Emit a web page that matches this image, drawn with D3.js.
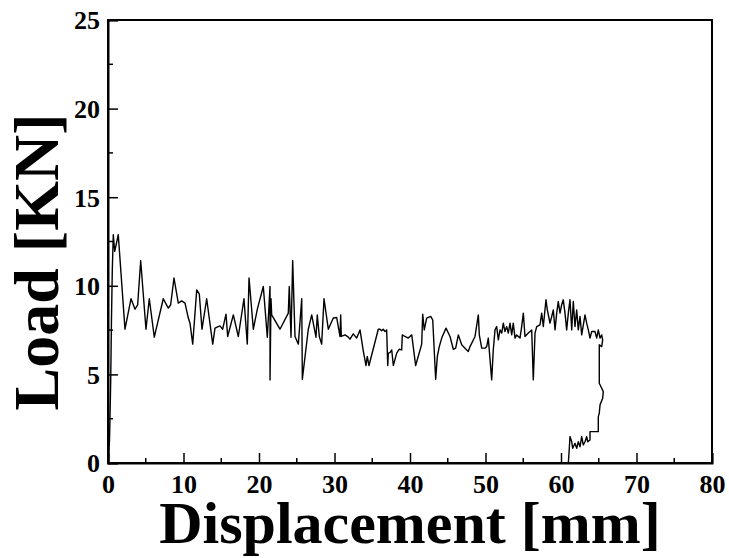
<!DOCTYPE html>
<html>
<head>
<meta charset="utf-8">
<script src="https://cdn.jsdelivr.net/npm/d3@7/dist/d3.min.js"></script>
<style>
  html, body { margin: 0; padding: 0; background: #fff; }
  svg { display: block; }
  text { font-family: "Liberation Serif", "Times New Roman", serif; font-weight: bold; fill: #000; }
</style>
</head>
<body>
<svg id="chart" width="729" height="558"></svg>
<script>
// Displacement [mm]
const displacement = [
  0.04,0.09,0.20,0.26,0.36,0.46,0.57,0.70,0.89,1.36,
  2.25,3.05,3.58,3.93,4.33,5.03,5.47,6.13,7.32,7.99,
  8.30,8.74,9.31,9.76,10.20,10.64,10.86,11.22,11.75,12.09,
  12.45,13.07,13.87,14.17,14.83,15.19,15.63,15.85,16.60,17.26,
  18.01,18.45,18.68,19.25,19.78,20.57,21.10,21.46,21.46,21.59,
  21.68,22.78,23.88,24.01,24.24,24.46,24.77,25.21,25.66,25.74,
  26.53,26.98,27.55,27.72,27.99,28.30,28.61,29.18,29.84,30.29,
  30.73,30.82,30.90,31.39,31.83,32.05,32.49,32.94,33.38,33.81,
  34.17,34.34,34.57,35.80,36.03,36.25,36.46,36.69,36.91,37.05,
  37.13,37.35,37.58,37.79,38.24,38.58,38.90,38.98,39.34,39.77,
  40.23,40.75,41.55,41.68,41.89,42.21,42.74,43.01,43.40,43.62,
  43.88,44.20,44.77,45.30,45.74,46.05,46.40,46.85,47.28,47.72,
  47.95,48.61,49.05,49.18,49.50,49.93,50.16,50.37,50.82,51.03,
  51.26,51.48,51.70,51.92,52.15,52.36,52.58,52.81,53.02,53.25,
  53.47,53.68,53.91,54.13,54.57,54.79,55.01,55.23,55.67,56.12,
  56.33,56.56,56.78,57.22,57.44,57.66,58.01,58.19,58.54,58.77,
  58.98,59.21,59.43,59.64,59.87,60.09,60.30,60.53,60.75,60.97,
  61.19,61.42,61.63,61.85,62.08,62.29,62.52,62.74,63.18,63.40,
  63.62,63.84,64.07,64.50,64.73,64.94,65.17,65.39,65.52,65.39,
  65.07,65.07,65.39,65.60,65.52,65.17,65.07,64.94,64.94,63.84,
  63.84,63.54,63.40,63.18,62.95,62.74,62.52,62.29,62.08,61.85,
  61.55,61.42,61.19,61.06,60.97
];
// Load [KN]
const load = [
  0.00,0.45,1.30,2.43,4.69,8.08,10.90,12.88,11.94,12.88,
  7.55,9.27,8.68,8.93,11.41,7.55,9.27,7.10,9.27,8.74,
  8.93,10.44,9.02,9.15,9.02,8.18,7.89,6.71,9.77,9.55,
  7.55,9.27,6.71,7.61,7.74,7.55,8.40,7.14,8.36,7.14,
  9.27,6.71,10.44,7.55,8.68,9.96,7.10,9.96,4.69,9.27,
  8.36,7.55,8.46,9.96,7.10,11.41,7.14,6.71,9.27,4.73,
  7.55,8.36,7.10,8.36,7.14,6.71,9.27,7.55,8.18,8.21,
  7.14,8.36,7.14,7.23,7.10,6.99,7.29,7.05,7.51,6.33,
  5.50,6.01,5.50,7.55,7.55,7.46,7.55,7.42,7.51,5.50,
  6.20,6.23,6.38,5.50,6.20,6.42,6.38,7.23,7.14,7.05,
  7.23,5.50,6.71,8.40,7.51,8.18,8.27,8.08,4.73,6.01,
  6.57,7.05,7.61,7.14,6.42,6.48,7.23,6.67,6.48,6.29,
  6.57,7.14,8.36,7.23,6.48,6.48,6.57,7.05,4.69,6.38,
  7.51,7.70,6.95,7.51,7.33,7.89,7.42,7.70,7.33,7.89,
  7.23,7.89,7.05,7.23,7.05,7.70,8.46,7.14,7.33,7.51,
  4.69,7.33,7.70,7.80,8.46,7.70,9.21,8.64,7.89,8.27,
  8.64,7.51,8.46,9.11,8.46,8.93,9.21,8.46,7.51,8.46,
  9.21,7.51,9.11,7.70,8.64,7.51,8.27,7.23,8.36,7.89,
  7.51,7.05,7.42,7.42,7.05,7.51,7.05,7.23,6.95,6.57,
  6.67,4.50,4.22,4.03,3.66,3.28,2.81,2.62,1.77,1.77,
  1.30,1.20,1.49,1.20,1.02,1.49,0.92,1.20,0.83,1.11,
  0.83,1.20,1.49,0.55,0.00
];
const xTicks = [0, 10, 20, 30, 40, 50, 60, 70, 80];
const xMinorTicks = [5, 15, 25, 35, 45, 55, 65, 75];
const yTicks = [0, 5, 10, 15, 20, 25];
const yMinorTicks = [2.5, 7.5, 12.5, 17.5, 22.5];
const xTitle = "Displacement [mm]";
const yTitle = "Load [KN]";

const W = 729, H = 558;
const m = { left: 108, right: 17, top: 20, bottom: 95 };
const svg = d3.select("#chart");
const x = d3.scaleLinear().domain([0, 80]).range([m.left, W - m.right]);
const y = d3.scaleLinear().domain([0, 25]).range([H - m.bottom, m.top]);

// data line
const pts = displacement.map((d, i) => [d, load[i]]);
svg.append("path")
  .datum(pts)
  .attr("fill", "none")
  .attr("stroke", "#000")
  .attr("stroke-width", 1.4)
  .attr("stroke-linejoin", "round")
  .attr("d", d3.line().x(d => x(d[0])).y(d => y(d[1])));

// frame
svg.append("rect")
  .attr("x", x(0)).attr("y", y(25))
  .attr("width", x(80) - x(0)).attr("height", y(0) - y(25))
  .attr("fill", "none").attr("stroke", "#000").attr("stroke-width", 2);

// minor ticks (inward), drawn without labels
svg.append("g").selectAll("line").data(xMinorTicks).join("line")
  .attr("x1", d => x(d)).attr("x2", d => x(d))
  .attr("y1", y(0)).attr("y2", y(0) - 5)
  .attr("stroke", "#000").attr("stroke-width", 1.5);
svg.append("g").selectAll("line").data(yMinorTicks).join("line")
  .attr("x1", x(0)).attr("x2", x(0) + 5)
  .attr("y1", d => y(d)).attr("y2", d => y(d))
  .attr("stroke", "#000").attr("stroke-width", 1.5);

// bottom axis (ticks inward)
const xAxis = d3.axisBottom(x).tickValues(xTicks).tickSize(-10).tickPadding(12).tickFormat(d3.format("d"));
const gx = svg.append("g").attr("transform", `translate(0,${y(0)})`).call(xAxis);

// left axis
const yAxis = d3.axisLeft(y).tickValues(yTicks).tickSize(-10).tickPadding(8).tickFormat(d3.format("d"));
const gy = svg.append("g").attr("transform", `translate(${x(0)},0)`).call(yAxis);

[gx, gy].forEach(g => {
  g.select(".domain").attr("stroke", "#000").attr("stroke-width", 2);
  g.selectAll(".tick line").attr("stroke", "#000").attr("stroke-width", 1.5);
  g.selectAll(".tick text")
    .attr("font-family", "'Liberation Serif', 'Times New Roman', serif")
    .attr("font-weight", "bold")
    .attr("font-size", 26)
    .attr("fill", "#000");
});
gx.selectAll(".tick text").attr("dy", "0.71em");
gy.selectAll(".tick text").attr("dy", "0.34em");

// titles
svg.append("text")
  .attr("x", 410).attr("y", 543)
  .attr("text-anchor", "middle")
  .attr("font-size", 60)
  .text(xTitle);

svg.append("text")
  .attr("transform", `translate(58,${262}) rotate(-90)`)
  .attr("text-anchor", "middle")
  .attr("font-size", 64)
  .text(yTitle);
</script>
</body>
</html>
